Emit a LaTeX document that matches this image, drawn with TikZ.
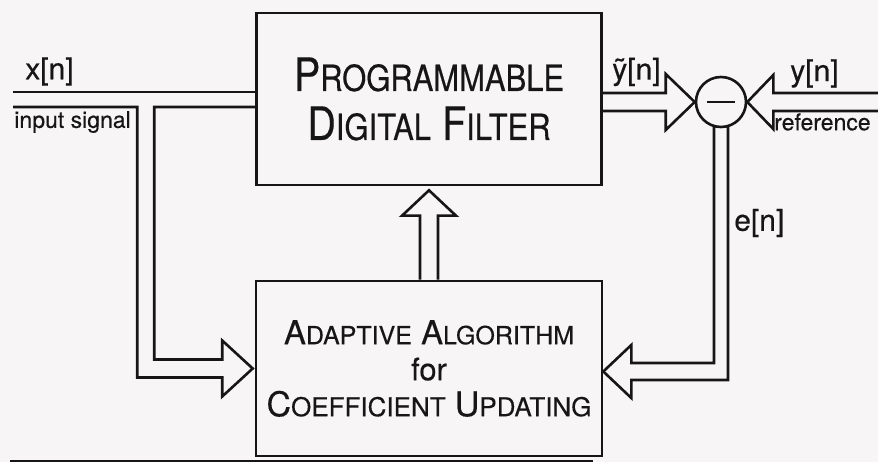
\documentclass[tikz,border=0pt]{standalone}
\usepackage{fontspec}
\setmainfont[FakeBold=0.35]{TeX Gyre Heros}
\usetikzlibrary{calc}
\definecolor{paper}{RGB}{248,245,247}
\definecolor{ink}{RGB}{22,22,22}
\newcommand{\mysc}[4]{{\fontsize{#1}{#1}\selectfont #3}{\fontsize{#2}{#2}\selectfont #4}}
\begin{document}
\begin{tikzpicture}[x=1pt,y=-1pt,line width=2.6pt,line join=miter,color=ink,
  blockbox/.style={draw=ink,rectangle,inner sep=0pt,align=center,text=ink},
  lbl/.style={inner sep=0pt,anchor=west,text=ink,font=\fontsize{30}{30}\selectfont},
  smalllbl/.style={inner sep=0pt,anchor=west,text=ink,font=\fontsize{23}{23}\selectfont}]
\fill[paper] (0,0) rectangle (878,462);
\useasboundingbox (0,0) rectangle (878,462);

% blocks
\node[blockbox,minimum width=345pt,minimum height=172pt,
      font=\fontsize{46}{49}\selectfont] (filter) at (429,99)
  {\scalebox{0.86}[1]{\mysc{46}{36}{P}{ROGRAMMABLE}}\\
   \scalebox{0.86}[1]{\mysc{46}{36}{D}{IGITAL} \mysc{46}{36}{F}{ILTER}}};
\node[blockbox,minimum width=346pt,minimum height=175pt,
      font=\fontsize{33}{36}\selectfont] (algo) at (429,368.5)
  {\mysc{33}{25}{A}{DAPTIVE} \mysc{33}{25}{A}{LGORITHM}\\
   {\fontsize{31}{31}\selectfont for}\\
   \mysc{34}{26}{C}{OEFFICIENT} \mysc{34}{26}{U}{PDATING}};
\node[draw=ink,circle,minimum size=50pt,inner sep=0pt] (sum) at (721,102)
  {\color{ink}\rule{28pt}{2.6pt}};

% free ends
\coordinate (xin) at (13,92);
\coordinate (xin2) at (13,107);
\coordinate (refin1) at (878,93);
\coordinate (refin2) at (878,111);
\coordinate (at) at ($(algo.west)+(-2,0)$);
\coordinate (et) at ($(algo.east)+(0,3)$);

% input signal
\draw (xin) -- (filter.west |- xin);
\draw (xin2) -| ($(at)+(-115.5,9)$) -- ($(at)+(-30.5,9)$) -- ($(at)+(-30.5,28)$)
  -- (at) -- ($(at)+(-30.5,-28)$) -- ($(at)+(-30.5,-9)$)
  -| ($(at |- xin2)+(-98.5,0)$) -- (filter.west |- xin2);

% coefficient update arrow
\draw ($(algo.north)+(-9,0)$) -- ($(algo.north)+(-9,-64)$) -- ($(algo.north)+(-27,-64)$)
  -- ($(filter.south)+(0,4)$) -- ($(algo.north)+(27,-64)$) -- ($(algo.north)+(9,-64)$)
  -- ($(algo.north)+(9,0)$);

% filter output to summer
\draw (filter.east |- {$(sum.west)+(-29,-9)$}) -- ($(sum.west)+(-29,-9)$) -- ($(sum.west)+(-29,-28)$)
  -- (sum.west) -- ($(sum.west)+(-29,28)$) -- ($(sum.west)+(-29,9)$)
  -- (filter.east |- {$(sum.west)+(-29,9)$});

% reference input
\draw (refin1) -- ($(sum.east)+(26,-9)$) -- ($(sum.east)+(26,-27)$) -- (sum.east)
  -- ($(sum.east)+(26,27)$) -- ($(sum.east)+(26,9)$) -- (refin2);

% error signal
\draw ($(sum.center)+(-7,24)$) |- ($(et)+(28,-8.5)$) -- ($(et)+(28,-26.5)$) -- (et)
  -- ($(et)+(28,26.5)$) -- ($(et)+(28,8.5)$) -| ($(sum.center)+(7,24)$);

% labels
\node[lbl] (xl) at (24,71.5) {x[n]};
\node[lbl] (ytl) at (611,72) {\~{y}[n]};
\node[lbl] (yl) at (789,73.5) {y[n]};
\node[lbl] (el) at (733,223) {e[n]};
\node[smalllbl] (isig) at (13,122) {input signal};
\node[smalllbl] (refl) at (773,122) {reference};

% bottom rule
\draw[line width=3pt] (10,461) -- (593,461);
\end{tikzpicture}
\end{document}
